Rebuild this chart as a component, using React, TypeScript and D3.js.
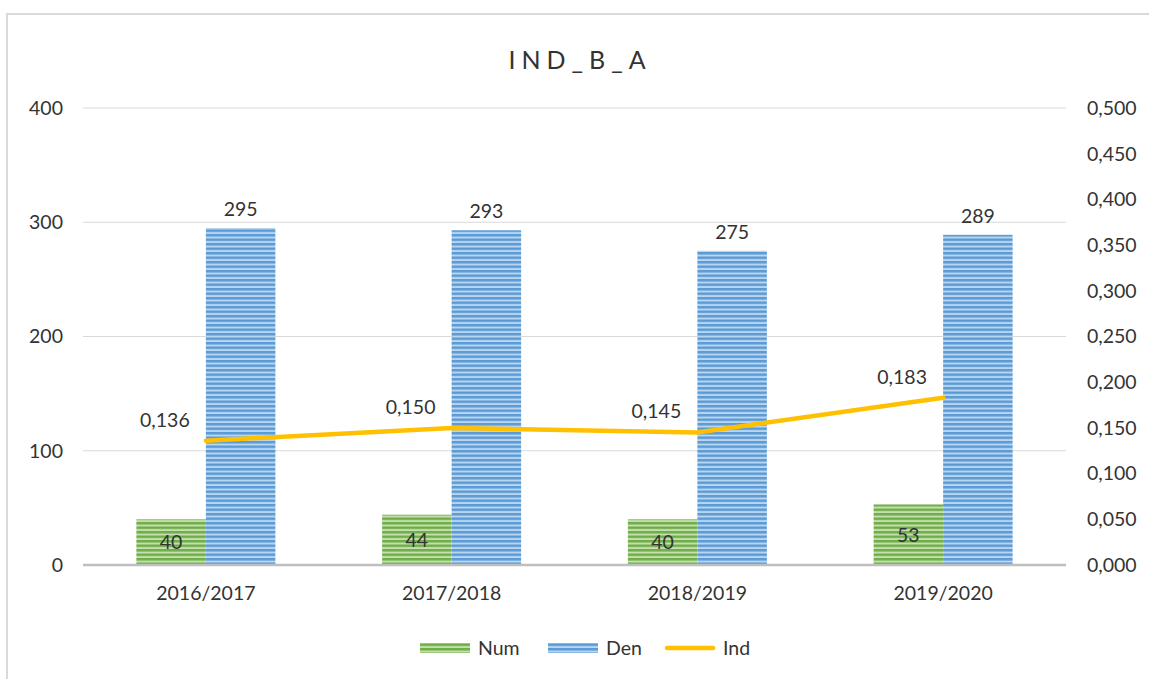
import React, { useEffect, useRef } from 'react'
import * as d3 from 'd3'

const categories = ['2016/2017', '2017/2018', '2018/2019', '2019/2020']
const numValues = [40, 44, 40, 53]
const denValues = [295, 293, 275, 289]
const indValues = [0.136, 0.15, 0.145, 0.183]
const leftTicks = [0, 100, 200, 300, 400]
const rightTicks = [0, 0.05, 0.1, 0.15, 0.2, 0.25, 0.3, 0.35, 0.4, 0.45, 0.5]

const W = 1149
const H = 679
const FONT = 'Lato, "Open Sans", sans-serif'

const fmt = (v: number) => d3.format('.3f')(v).replace('.', ',')

export default function App() {
  const ref = useRef<SVGSVGElement>(null)

  useEffect(() => {
    const svg = d3.select(ref.current)
    svg.selectAll('*').remove()

    const left = 83, right = 1066, top = 108, bottom = 565

    const defs = svg.append('defs')
    const stripes = (id: string, dark: string, light: string) => {
      const p = defs.append('pattern')
        .attr('id', id)
        .attr('patternUnits', 'userSpaceOnUse')
        .attr('width', 8).attr('height', 4.5)
      p.append('rect').attr('width', 8).attr('height', 4.5).attr('fill', dark)
      p.append('rect').attr('y', 2.5).attr('width', 8).attr('height', 2).attr('fill', light)
    }
    stripes('blueStripe', '#5b9bd5', '#b9d5f0')
    stripes('greenStripe', '#70ad47', '#c4e0b0')

    // frame
    svg.append('rect')
      .attr('x', 7).attr('y', 14).attr('width', W + 20).attr('height', H + 20)
      .attr('fill', 'white').attr('stroke', '#d9d9d9').attr('stroke-width', 2)

    const x = d3.scaleBand().domain(categories).range([left, right])
    const y = d3.scaleLinear().domain([0, 400]).range([bottom, top])
    const y2 = d3.scaleLinear().domain([0, 0.5]).range([bottom, top])
    const barW = 69.5

    // gridlines
    svg.append('g').selectAll('line').data(leftTicks.filter(d => d > 0)).enter().append('line')
      .attr('x1', left).attr('x2', right)
      .attr('y1', d => y(d)).attr('y2', d => y(d))
      .attr('stroke', '#d9d9d9').attr('stroke-width', 1)

    const lbl = (g: any) => g.attr('font-family', FONT).attr('font-size', 19.5).attr('fill', '#333')

    // left axis labels
    svg.append('g').selectAll('text').data(leftTicks).enter().append('text')
      .attr('x', 63).attr('y', d => y(d)).attr('dy', '0.35em')
      .attr('text-anchor', 'end').call(lbl)
      .text(d => d)

    // right axis labels
    svg.append('g').selectAll('text').data(rightTicks).enter().append('text')
      .attr('x', 1087).attr('y', d => y2(d)).attr('dy', '0.35em')
      .attr('text-anchor', 'start').call(lbl)
      .text(d => fmt(d))

    const cx = (c: string) => (x(c) as number) + x.bandwidth() / 2

    // bars
    svg.append('g').selectAll('rect').data(categories).enter().append('rect')
      .attr('x', c => cx(c) - barW).attr('width', barW)
      .attr('y', (c, i) => y(numValues[i])).attr('height', (c, i) => bottom - y(numValues[i]))
      .attr('fill', 'url(#greenStripe)')
    svg.append('g').selectAll('rect').data(categories).enter().append('rect')
      .attr('x', c => cx(c)).attr('width', barW)
      .attr('y', (c, i) => y(denValues[i])).attr('height', (c, i) => bottom - y(denValues[i]))
      .attr('fill', 'url(#blueStripe)')

    // axis line
    svg.append('line')
      .attr('x1', left).attr('x2', right).attr('y1', bottom).attr('y2', bottom)
      .attr('stroke', '#bfbfbf').attr('stroke-width', 2.5)

    // line
    const line = d3.line<number>()
      .x((d, i) => cx(categories[i]))
      .y(d => y2(d))
    svg.append('path').datum(indValues)
      .attr('d', line)
      .attr('fill', 'none').attr('stroke', '#ffc000').attr('stroke-width', 4.5)
      .attr('stroke-linecap', 'round')

    // value labels
    svg.append('g').selectAll('text').data(categories).enter().append('text')
      .attr('x', c => cx(c) - barW / 2).attr('y', (c, i) => (y(numValues[i]) + bottom) / 2).attr('dy', '0.35em')
      .attr('text-anchor', 'middle').call(lbl)
      .text((c, i) => numValues[i])
    svg.append('g').selectAll('text').data(categories).enter().append('text')
      .attr('x', c => cx(c) + barW / 2).attr('y', (c, i) => y(denValues[i]) - 12)
      .attr('text-anchor', 'middle').call(lbl)
      .text((c, i) => denValues[i])
    svg.append('g').selectAll('text').data(categories).enter().append('text')
      .attr('x', c => cx(c) - 41).attr('y', (c, i) => y2(indValues[i]) - 14)
      .attr('text-anchor', 'middle').call(lbl)
      .text((c, i) => fmt(indValues[i]))

    // category labels
    svg.append('g').selectAll('text').data(categories).enter().append('text')
      .attr('x', c => cx(c)).attr('y', 600)
      .attr('text-anchor', 'middle').call(lbl)
      .text(c => c)

    // title
    svg.append('text')
      .attr('x', 580).attr('y', 69).attr('text-anchor', 'middle')
      .attr('font-family', FONT).attr('font-size', 25).attr('fill', '#333')
      .attr('letter-spacing', 6)
      .text('IND_B_A')

    // legend
    const lg = svg.append('g')
    const items = [
      { name: 'Num', type: 'bar', fill: 'url(#greenStripe)', x: 420 },
      { name: 'Den', type: 'bar', fill: 'url(#blueStripe)', x: 548 },
      { name: 'Ind', type: 'line', fill: '#ffc000', x: 665 },
    ]
    items.forEach(it => {
      if (it.type === 'bar') {
        lg.append('rect').attr('x', it.x).attr('y', 643).attr('width', 50).attr('height', 10).attr('fill', it.fill)
      } else {
        lg.append('line').attr('x1', it.x + 2).attr('x2', it.x + 48).attr('y1', 648).attr('y2', 648)
          .attr('stroke', it.fill).attr('stroke-width', 4.5).attr('stroke-linecap', 'round')
      }
      lg.append('text').attr('x', it.x + 58).attr('y', 648).attr('dy', '0.35em').call(lbl).text(it.name)
    })
  }, [])

  return (
    <svg ref={ref} width={W} height={H} style={{ position: 'absolute', left: 0, top: 0, background: 'white' }} />
  )
}
